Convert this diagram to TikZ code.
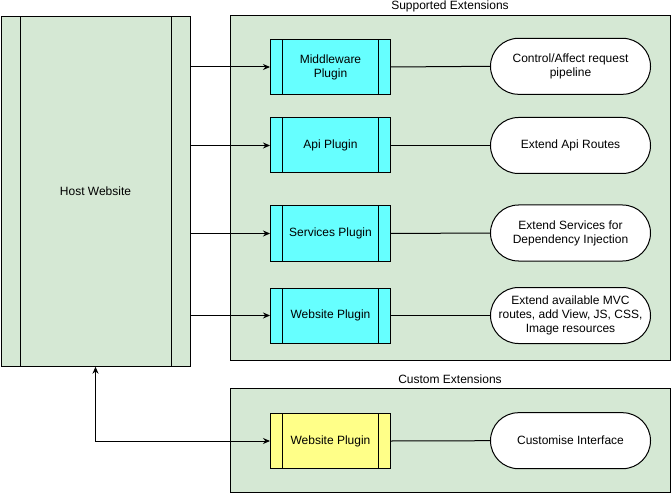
\documentclass[tikz,border=0pt]{standalone}
\usepackage{fontspec}
\setmainfont{Liberation Sans}
\usetikzlibrary{arrows.meta}
\definecolor{groupgreen}{HTML}{D5E8D4}
\definecolor{plugincyan}{HTML}{66FFFF}
\definecolor{pluginyellow}{HTML}{FFFF88}
\begin{document}
\begin{tikzpicture}
            [x=1pt,y=-1pt,line width=1pt,
             every node/.style={font=\fontsize{12}{13.8}\selectfont,align=center,inner sep=0pt},
             group/.style={draw,fill=groupgreen,minimum width=440pt},
             process/.style={draw,minimum width=120pt,minimum height=55pt,
               path picture={\draw ([xshift=12pt]path picture bounding box.north west) -- ([xshift=12pt]path picture bounding box.south west)
                 ([xshift=-12pt]path picture bounding box.north east) -- ([xshift=-12pt]path picture bounding box.south east);}},
             plugin/.style={process,fill=plugincyan},
             custom/.style={process,fill=pluginyellow},
             result/.style={draw,fill=white,rounded corners=28pt,minimum width=160pt,minimum height=56pt},
             link/.style={-{Stealth[length=7pt,width=6pt]}}]
            \useasboundingbox (0,0) rectangle (671,494);
            \node[draw,fill=groupgreen,minimum width=189pt,minimum height=350pt,
              path picture={\draw ([xshift=19pt]path picture bounding box.north west) -- ([xshift=19pt]path picture bounding box.south west)
                ([xshift=-19pt]path picture bounding box.north east) -- ([xshift=-19pt]path picture bounding box.south east);}]
              (host) at (95.5,191.2) {Host Website};
            \node[group,minimum height=344pt] (supported) at (450,188) {};
            \node (supportedlbl) at (450,6.5) {Supported Extensions};
            \node[group,minimum height=104pt] (customgrp) at (450,440.3) {};
            \node (customlbl) at (450,379) {Custom Extensions};
            % plugins
            \node[plugin] (mw) at (330.5,67) {Middleware\\Plugin};
            \node[plugin] (api) at (330.5,145.5) {Api Plugin};
            \node[plugin] (svc) at (330.5,233.5) {Services Plugin};
            \node[plugin] (web) at (330.5,315.5) {Website Plugin};
            \node[custom] (cweb) at (330.5,441) {Website Plugin};
            % what they do
            \node[result] (mwd) at (570.5,66.3) {Control/Affect request\\pipeline};
            \node[result] (apid) at (570.5,145.5) {Extend Api Routes};
            \node[result] (svcd) at (570.5,233) {Extend Services for\\Dependency Injection};
            \node[result] (webd) at (570.5,315.5) {Extend available MVC\\routes, add View, JS, CSS,\\Image resources};
            \node[result] (cwebd) at (570.5,440.7) {Customise Interface};
            \foreach \p in {mw,api,svc,web}
              \draw[link] (host.east |- \p) -- (\p.west);
            \foreach \p in {mw,api,svc,web,cweb}
              \draw (\p.east) -- (\p d.west);
            \draw[{Stealth[length=7pt,width=6pt]}-{Stealth[length=7pt,width=6pt]}] (host.south) |- (cweb.west);
        \end{tikzpicture}
\end{document}
